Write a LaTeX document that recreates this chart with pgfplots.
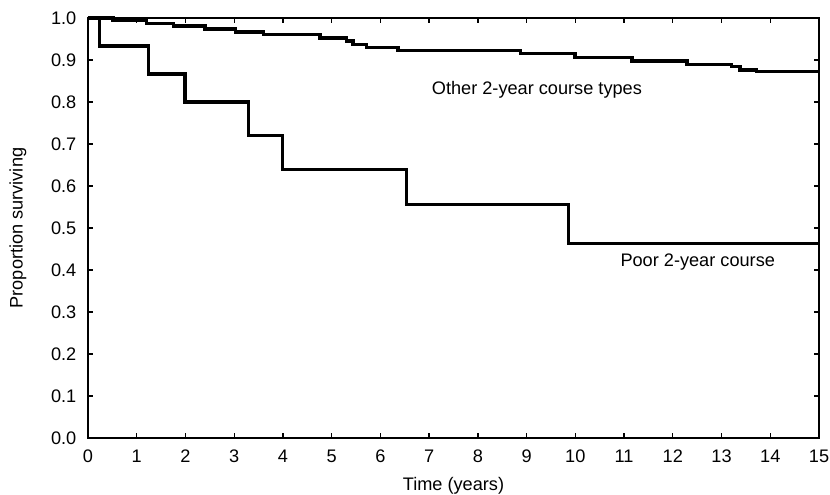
\documentclass[border=0pt]{standalone}
\usepackage{fontspec}
\setmainfont{Liberation Sans}
\usepackage{pgfplots}
\pgfplotsset{compat=1.18}

\begin{document}
\begin{tikzpicture}
\begin{axis}[
    scale only axis,
    width=438.6pt, height=252pt,
    xmin=0, xmax=15, ymin=0, ymax=1,
    xtick={0,1,...,15},
    ytick={0,0.1,...,1.0},
    yticklabel style={/pgf/number format/fixed, /pgf/number format/fixed zerofill, /pgf/number format/precision=1},
    /pgf/number format/assume math mode=true,
    tick label style={font=\fontsize{10.9}{13}\selectfont},
    xticklabel style={yshift=-3.5pt},
    yticklabel style={xshift=-3.5pt},
    tick align=inside,
    major tick length=3pt,
    every tick/.style={black, line width=0.8pt},
    axis line style={line width=1.2pt},
    xlabel={Time (years)},
    ylabel={Proportion surviving},
    label style={font=\fontsize{10.9}{13}\selectfont},
    xlabel style={at={(axis description cs:0.5,-0.114)}, anchor=center},
    ylabel style={at={(axis description cs:-0.0958,0.5)}, anchor=center},
    clip=false,
]
% Other 2-year course types
\addplot[const plot, black, line width=2pt] coordinates {
    (0,1.0) (0.51,0.995) (1.20,0.987) (1.75,0.981) (2.40,0.974) (3.02,0.967)
    (3.60,0.960) (4.76,0.952) (5.31,0.945) (5.44,0.937) (5.72,0.929)
    (6.36,0.922) (8.87,0.916) (9.99,0.906) (11.16,0.898) (12.29,0.890)
    (13.21,0.884) (13.38,0.876) (13.72,0.872) (15,0.872)
};
% Poor 2-year course
\addplot[const plot, black, line width=2pt] coordinates {
    (0,1.0) (0.23,0.933) (1.24,0.867) (1.99,0.800) (3.29,0.720)
    (3.99,0.640) (6.54,0.556) (9.86,0.463) (15,0.463)
};
\node[anchor=west, inner sep=0pt, font=\fontsize{10.9}{13}\selectfont] at (axis cs:7.05,0.830) {Other 2-year course types};
\node[anchor=west, inner sep=0pt, font=\fontsize{10.9}{13}\selectfont] at (axis cs:10.92,0.420) {Poor 2-year course};
\end{axis}
\pgfresetboundingbox
\path[use as bounding box] (-52.8pt,-34.2pt) rectangle (445.2pt,262.8pt);
\end{tikzpicture}
\end{document}
